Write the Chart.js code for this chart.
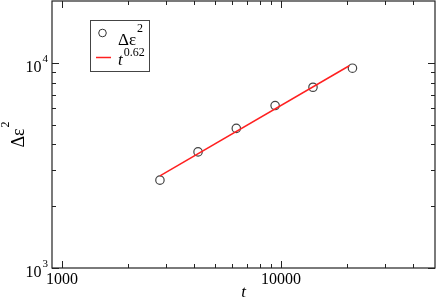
<!DOCTYPE html>
<html>
<head>
<meta charset="utf-8">
<script src="https://cdn.jsdelivr.net/npm/chart.js@4/dist/chart.umd.min.js"></script>
<style>
  html, body { margin: 0; padding: 0; background: #fff; }
  #wrap { width: 436px; height: 300px; }
</style>
</head>
<body>
<div id="wrap"><canvas id="chart" width="436" height="300"></canvas></div>
<script>
// data
const times = [2800, 4180, 6250, 9400, 14000, 21200];
const deltaEps2 = [2680, 3680, 4790, 6190, 7600, 9410];
const fitTimes = [2800, 20500];
const fitValues = [2810, 9670];

const xMajor = [1000, 10000];
const xMinor = [2000, 3000, 4000, 5000, 6000, 7000, 8000, 9000, 20000, 30000, 40000];
const yMajor = [1000, 10000];
const yMinor = [2000, 3000, 4000, 5000, 6000, 7000, 8000, 9000];

const serif = '"Liberation Serif", "DejaVu Serif", serif';
const frameColor = "#222";

function supText(ctx, base, sup, x, y, size, supSize, raise, style) {
  ctx.font = (style || "") + " " + size + "px " + serif;
  ctx.textAlign = "left";
  ctx.fillText(base, x, y);
  const w = ctx.measureText(base).width;
  ctx.font = supSize + "px " + serif;
  ctx.fillText(sup, x + w + 1, y - raise);
  return w + 1 + ctx.measureText(sup).width;
}

function supWidth(ctx, base, sup, size, supSize, style) {
  ctx.font = (style || "") + " " + size + "px " + serif;
  const w = ctx.measureText(base).width;
  ctx.font = supSize + "px " + serif;
  return w + 1 + ctx.measureText(sup).width;
}

const framePlugin = {
  id: "frame",
  afterDraw(chart) {
    const ctx = chart.ctx;
    const a = chart.chartArea;
    const xs = chart.scales.x, ys = chart.scales.y;
    ctx.save();
    ctx.strokeStyle = frameColor;
    ctx.fillStyle = "#000";
    ctx.lineWidth = 1.2;
    ctx.strokeRect(a.left, a.top, a.right - a.left, a.bottom - a.top);

    // inward ticks on all four sides
    ctx.lineWidth = 1;
    ctx.beginPath();
    const tickX = (vals, len) => vals.forEach(v => {
      const px = Math.round(xs.getPixelForValue(v)) + 0.5;
      ctx.moveTo(px, a.bottom); ctx.lineTo(px, a.bottom - len);
      ctx.moveTo(px, a.top); ctx.lineTo(px, a.top + len);
    });
    const tickY = (vals, len) => vals.forEach(v => {
      const py = Math.round(ys.getPixelForValue(v)) + 0.5;
      ctx.moveTo(a.left, py); ctx.lineTo(a.left + len, py);
      ctx.moveTo(a.right, py); ctx.lineTo(a.right - len, py);
    });
    tickX(xMajor, 7); tickX(xMinor, 4);
    tickY(yMajor, 7); tickY(yMinor, 4);
    ctx.stroke();

    // x tick labels
    ctx.font = "16px " + serif;
    ctx.textAlign = "center";
    ctx.textBaseline = "alphabetic";
    xMajor.forEach(v => ctx.fillText(String(v), xs.getPixelForValue(v), a.bottom + 16));

    // y tick labels 10^n
    yMajor.forEach(v => {
      const py = ys.getPixelForValue(v);
      const exp = String(Math.round(Math.log10(v)));
      const w = supWidth(ctx, "10", exp, 16, 11);
      supText(ctx, "10", exp, a.left - 4 - w, py + 9, 16, 11, 10);
    });

    // axis titles
    ctx.font = "italic 17px " + serif;
    ctx.textAlign = "center";
    ctx.fillText("t", (a.left + a.right) / 2, 297);

    ctx.save();
    ctx.translate(24, (a.top + a.bottom) / 2);
    ctx.rotate(-Math.PI / 2);
    const tw = supWidth(ctx, "\u0394\u03b5", "2", 18, 12);
    supText(ctx, "\u0394\u03b5", "2", -tw / 2, 0, 18, 12, 15);
    ctx.restore();

    // legend
    ctx.lineWidth = 1;
    ctx.strokeStyle = "#444";
    ctx.strokeRect(90.5, 20.5, 59, 51);
    ctx.beginPath();
    ctx.arc(102.5, 33, 3.8, 0, Math.PI * 2);
    ctx.strokeStyle = "#333";
    ctx.stroke();
    ctx.fillStyle = "#000";
    supText(ctx, "\u0394\u03b5", "2", 118, 45, 17, 12, 13);
    ctx.strokeStyle = "#ff2020";
    ctx.lineWidth = 1.5;
    ctx.beginPath();
    ctx.moveTo(96, 57.5); ctx.lineTo(111, 57.5);
    ctx.stroke();
    supText(ctx, "t", "0.62", 118, 65, 17, 12, 9, "italic");
    ctx.restore();
  }
};

new Chart(document.getElementById("chart"), {
  type: "scatter",
  data: {
    datasets: [
      {
        label: "t^0.62",
        data: fitTimes.map((t, i) => ({ x: t, y: fitValues[i] })),
        showLine: true,
        borderColor: "#ff2020",
        borderWidth: 1.5,
        pointRadius: 0
      },
      {
        label: "Δε²",
        data: times.map((t, i) => ({ x: t, y: deltaEps2[i] })),
        pointRadius: 4.2,
        pointBorderWidth: 1.2,
        pointBorderColor: "#444",
        pointBackgroundColor: "rgba(0,0,0,0)"
      }
    ]
  },
  options: {
    responsive: false,
    animation: false,
    layout: { autoPadding: false, padding: { left: 52, right: 1, top: 1, bottom: 32 } },
    plugins: { legend: { display: false }, tooltip: { enabled: false } },
    scales: {
      x: { type: "logarithmic", min: 900, max: 50500, display: false },
      y: { type: "logarithmic", min: 1000, max: 20000, display: false }
    }
  },
  plugins: [framePlugin]
});
</script>
</body>
</html>
